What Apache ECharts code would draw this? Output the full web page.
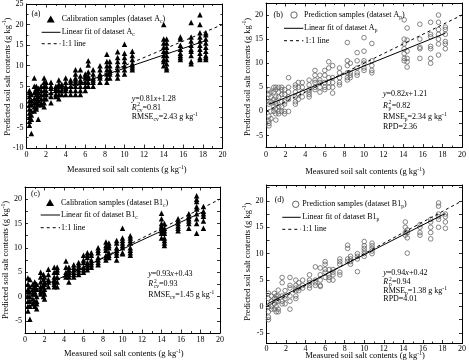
<!DOCTYPE html>
<html><head><meta charset="utf-8">
<script src="https://cdn.jsdelivr.net/npm/echarts@6/dist/echarts.min.js"></script>
<style>html,body{margin:0;padding:0;background:#fff}#c{width:469px;height:361px}</style>
</head><body><div id="c"></div>
<script>
// ---------- data ----------
const xTickLabels = [0, 2, 4, 6, 8, 10, 12, 14, 16, 18, 20];
const yTickLabelsA = [-10, -5, 0, 5, 10, 15, 20, 25];
const yTickLabels = [-5, 0, 5, 10, 15, 20];
const yTicksMinor = [-5, -2.5, 0, 2.5, 5, 7.5, 10, 12.5, 15, 17.5, 20, 22.5];

// (a) calibration samples, dataset Ac
const aX = [0.3, 0.5, 0.8, 1.0, 1.2, 1.5, 1.8, 2.0, 2.5, 3.0, 3.3, 3.6, 4.0, 4.5, 5.0, 5.5, 6.0, 6.3, 6.8, 7.5, 8.2, 8.5, 9.3, 10.0, 10.8, 14.0, 14.3, 15.7, 16.8, 17.7, 18.3];
const aY = [
  [4, 3.5, 2.5, 1.5, 0.5, -0.5, -1.5, -2.5, -3.5, -4.5],
  [3, 1.5, 0.5, -1, -2, -3, -6.5],
  [7, 5, 3.5, 2, 1, 0, -1],
  [5, 4.5, 4, 3, 2, 1, 0, -0.5],
  [4.5, 3.5, 2.5, 1.5, 0.5, -3],
  [5, 4, 3, 2, 1, 0.5],
  [7, 6, 5, 4, 3, 2, 1, 0],
  [6, 5, 4, 3, 2],
  [6, 5, 4.5, 3.5, 2.5, 1],
  [5, 4.5, 4, 3, 2.5],
  [6.5, 5.5, 5, 4, 3, 2],
  [5.5, 5, 4, 3],
  [7, 6, 5, 4.5, 4, 3],
  [6.5, 6, 5, 4, 3],
  [9, 8, 7, 6.5, 6, 5, 4, 3],
  [9, 7.5, 6.5, 6, 5, 4, 3],
  [8, 7.5, 7, 6, 5, 4],
  [11.2, 10.2, 8.5, 7.5, 7, 6, 5],
  [9, 8, 7, 6.5, 6, 5],
  [10, 9, 8, 7.5, 7, 6],
  [12.8, 11, 10, 9, 8, 7, 6],
  [11, 10, 9, 8.5, 8, 7],
  [13.4, 12, 11, 10, 9, 8, 7],
  [15.2, 13, 12, 11, 10, 9, 8],
  [13.5, 12.5, 11.5, 10.5, 10, 9.5, 9],
  [20, 16.5, 15.5, 14.5, 13.5, 12.5, 11.5, 11, 10],
  [16.5, 15.5, 14.5, 13.5, 12.5, 11.5, 10.5, 9.5, 9],
  [17, 16.5, 15, 14, 13, 12.5, 12, 11.5],
  [20.5, 17, 16, 15, 14, 13.5, 12.5, 11, 10.5],
  [22.4, 20, 18, 17, 16, 15, 14, 13, 12, 11.5],
  [18, 17.5, 16.5, 15.5, 14.5, 13.5, 12.5, 12, 11.5]
];
const aFit = [[0.3, 1.52], [18.4, 16.18]];

// (b) prediction samples, dataset Ap
const bX = [0.3, 0.5, 0.8, 1.0, 1.3, 1.6, 1.9, 2.3, 3.0, 3.3, 3.7, 4.4, 5.0, 5.5, 6.0, 6.4, 6.8, 7.5, 8.3, 8.6, 9.3, 10.0, 10.8, 14.1, 14.4, 15.7, 16.8, 17.6, 18.3];
const bY = [
  [4.5, 3.5, 2, 1.5, -1, -2, -2.5, -3],
  [4, 3, 2, 0, -1.5],
  [5, 4, 2.5, 1, 0],
  [5, 4.5, 3, 2, 1.5, 0.5, -0.5, -1.8],
  [5, 4, 3, 1, 0, -0.5],
  [5, 4.5, 3.5, 2, 1, 0],
  [4.5, 3.5, 2, 1.5, 0, -0.5],
  [7, 5, 4, 3, 2.5, 0],
  [5.5, 5, 4, 3, 2, 1.5],
  [6, 5, 3.5, 2.5],
  [6, 5, 4, 3],
  [6.5, 5.5, 4.5, 4, 3.5, 3],
  [8.5, 7.5, 6.5, 6, 5, 4.5],
  [7.5, 6.5, 6, 5, 4],
  [8.5, 7.5, 6, 5, 4.5],
  [10.3, 9, 7, 6, 5],
  [9.5, 7, 6, 5, 3.8],
  [9, 8, 7, 6, 5.5],
  [14.3, 10.5, 9.5, 8, 7, 6.5],
  [10, 8, 7.5, 7],
  [12.2, 10.5, 9, 8, 7.5],
  [15.3, 12.5, 10.5, 10, 9, 8.5],
  [14.1, 10.5, 9.5, 8.5, 8],
  [19, 15, 14, 13, 12, 11, 10.5],
  [17.3, 14.8, 12.5, 11, 10.3, 9.2],
  [18.1, 15, 13.3, 13, 11],
  [18.5, 16, 15.5, 13.5, 13, 11, 10],
  [20, 18.5, 17, 16, 15, 14, 11.7],
  [17.5, 17, 16, 14.5, 14, 13]
];
const bFit = [[0.3, 1.46], [18.3, 16.22]];

// (c) calibration samples, dataset B1c
const cX = [0.3, 0.5, 0.8, 1.0, 1.2, 1.6, 1.9, 2.0, 2.4, 3.0, 3.3, 4.2, 4.5, 5.0, 5.5, 6.0, 6.4, 6.8, 7.5, 8.3, 8.6, 9.4, 10.0, 10.8, 14.0, 14.3, 15.7, 16.8, 17.6, 18.3];
const cY = [
  [3.8, 2.5, 1.5, 1, 0, -1, -2, -3],
  [3.5, 2, 1, 0, -1, -2, -4.7],
  [2.5, 1.5, 0.5, -0.5, -1.5],
  [3, 2, 1.5, 1, 0.5, -1, -2],
  [2.5, 1.5, 0, -1, -1.5, -2.5],
  [5, 4, 3, 2, 1.5, 1, 0.5],
  [4.5, 3.5, 2.5, 2, 1, 0],
  [4, 3, 2.5, 1.5, 0.5, -0.5],
  [5.6, 4.5, 3.5, 3, 2],
  [6, 5, 4, 3.5, 3, 2.5, 2],
  [6, 5.5, 5, 4, 3, 2],
  [7.3, 6, 5, 4.5, 4],
  [6, 5.5, 5, 4.5, 4, 3],
  [6.5, 6, 5.5, 5, 4.5, 4],
  [7, 6.5, 6, 5.5, 5, 4.5],
  [8.5, 7.5, 7, 6, 5.5, 5],
  [9, 8.5, 8, 7, 6.5, 6, 5.5],
  [9, 8.5, 7.5, 7, 6.5, 6],
  [10, 9.5, 9, 8, 7.5, 7, 6.5],
  [11.2, 10.5, 10, 9.5, 8.5, 8, 7.5],
  [11, 10.5, 10, 9, 8.5, 8],
  [11.5, 11, 10, 9.5, 9, 8.5, 7.5],
  [14, 12, 11.5, 11, 10.5, 10, 9, 8.8],
  [12.5, 12, 11.5, 11, 10, 9.5, 9, 8.5],
  [17.1, 16, 15, 14.5, 14, 13.5, 13, 12],
  [15, 14, 13.5, 13, 12, 11.5, 11, 10.5],
  [16, 15.5, 15, 14.5, 14, 13.5],
  [17, 16.5, 16, 15.5, 15, 14],
  [20.7, 20, 19.5, 18.5, 18, 17, 16, 15, 13],
  [18.5, 17.5, 17, 16.5, 15.5, 14]
];
const cFit = [[0.3, 0.71], [18.3, 17.45]];

// (d) prediction samples, dataset B1p
const dX = [0.2, 0.5, 0.8, 1.0, 1.2, 1.6, 1.9, 2.4, 3.0, 3.3, 3.7, 4.4, 5.0, 5.5, 6.0, 6.4, 6.8, 7.5, 8.3, 8.6, 9.3, 10.0, 10.8, 14.2, 14.4, 15.7, 16.8, 17.6, 18.3];
const dY = [
  [2.5, 1.5, 0, -1, -2, -2.5],
  [2, 1, 0, -0.5],
  [2.5, 1.5, 0.5, -0.5],
  [2, 1.5, 1, 0, -1],
  [3.1, 2, 1, -0.5, -1],
  [5.5, 4.5, 2, 1, 0.5],
  [3, 2, 1.5, 0.5],
  [5.5, 4, 3.5, 2, 1, -0.5],
  [5, 4, 3.5, 3, 2, 1.5],
  [4.5, 3.5, 3],
  [5, 4, 3.5],
  [6, 5, 4.5, 4, 3.5],
  [7.5, 5, 4.5, 4],
  [7.3, 6, 5, 4, 3.8],
  [8.5, 8, 7, 6.5, 5.5],
  [7, 6, 5.5, 5],
  [7, 6.5, 6, 5],
  [9, 8.5, 8, 6.5, 6],
  [11.6, 11, 9, 8.5],
  [9.5, 9, 8.5, 8],
  [10, 9.5, 9, 6.6],
  [12.3, 11.5, 11, 10.5, 10, 9.5],
  [12, 11.5, 11, 10.5, 10],
  [16, 15, 14, 13.5],
  [14.5, 14, 13, 10.1],
  [15.5, 15, 14, 13.5],
  [16.5, 16, 15, 14, 12.8],
  [19.6, 19, 17.5, 17, 16.5, 15],
  [17.5, 17, 16, 14.8]
];
const dFit = [[0.1, 0.51], [18.3, 17.62]];

const oneToOne = [[0, 0], [20, 20]];

// ---------- build ----------
const FF = "'Liberation Serif', 'Times New Roman', serif";
const pts = (xs, ys) => xs.flatMap((x, i) => ys[i].map(y => [x, y]));

const grids = [
  {left: 26.5, top: 2, width: 196, height: 146},
  {left: 266, top: 3, width: 197, height: 144.5},
  {left: 25, top: 187, width: 195, height: 146},
  {left: 266.5, top: 185, width: 197, height: 158.5}
];
const yRanges = [[-10, 25], [-7.5, 22.5], [-7.5, 22.5], [-7, 23]];
const xLabelMargin = [3, 3, 3, 1.5];

const xAxes = [], yAxes = [];
grids.forEach((g, i) => {
  ['bottom', 'top'].forEach(pos => {
    xAxes.push({
      type: 'value', gridIndex: i, position: pos, min: 0, max: 20, interval: 2,
      axisLine: {show: true, onZero: false, lineStyle: {color: '#000', width: 1}},
      axisTick: {show: true, inside: true, length: 3.5, lineStyle: {color: '#000', width: 0.8}},
      minorTick: {show: true, splitNumber: 2, length: 2, lineStyle: {color: '#000', width: 0.8}},
      axisLabel: {show: pos === 'bottom', color: '#000', fontFamily: FF, fontSize: 8, margin: xLabelMargin[i],
        customValues: xTickLabels},
      splitLine: {show: false}, minorSplitLine: {show: false}
    });
  });
  ['left', 'right'].forEach(pos => {
    const [mn, mx] = yRanges[i];
    const ax = {
      type: 'value', gridIndex: i, position: pos, min: mn, max: mx,
      axisLine: {show: true, onZero: false, lineStyle: {color: '#000', width: 1}},
      axisLabel: {show: pos === 'left', color: '#000', fontFamily: FF, fontSize: 8, margin: 3},
      splitLine: {show: false}
    };
    if (i === 0) {
      ax.interval = 5;
      ax.axisTick = {show: true, inside: true, length: 3.5, lineStyle: {color: '#000', width: 0.8}};
      ax.minorTick = {show: true, splitNumber: 2, length: 2, lineStyle: {color: '#000', width: 0.8}};
      ax.axisLabel.customValues = yTickLabelsA;
    } else {
      ax.axisTick = {show: true, inside: true, length: 3, customValues: yTicksMinor, lineStyle: {color: '#000', width: 0.8}};
      ax.axisLabel.customValues = yTickLabels;
    }
    yAxes.push(ax);
  });
});

const series = [];
const sets = [
  {d: pts(aX, aY), fit: aFit, tri: true},
  {d: pts(bX, bY), fit: bFit, tri: false},
  {d: pts(cX, cY), fit: cFit, tri: true},
  {d: pts(dX, dY), fit: dFit, tri: false}
];
sets.forEach((s, i) => {
  const xi = i * 2, yi = i * 2;
  series.push({
    type: 'scatter', xAxisIndex: xi, yAxisIndex: yi, data: s.d,
    symbol: s.tri ? 'triangle' : 'circle', symbolSize: s.tri ? 5.5 : 4.6,
    itemStyle: s.tri ? {color: '#000', opacity: 1} : {color: 'rgba(255,255,255,0)', borderColor: '#666', borderWidth: 0.8, opacity: 1},
    emphasis: {disabled: true}, silent: true, z: 2
  });
  series.push({
    type: 'line', xAxisIndex: xi, yAxisIndex: yi, data: oneToOne, symbol: 'none',
    lineStyle: {color: '#000', width: 1, type: [3, 3]}, silent: true, z: 3
  });
  series.push({
    type: 'line', xAxisIndex: xi, yAxisIndex: yi, data: s.fit, symbol: 'none',
    lineStyle: {color: '#000', width: 1}, silent: true, z: 3
  });
});

// ---------- texts ----------
const RICH = {
  i: {fontStyle: 'italic', fontFamily: FF, fontSize: 8, fill: '#000'},
  sup: {fontFamily: FF, fontSize: 5.5, padding: [0, 0, 5, 0], fill: '#000'},
  sub: {fontFamily: FF, fontSize: 5.5, padding: [5, 0, 0, 0], fill: '#000'}
};
function txt(x, y, text, opt) {
  return Object.assign({
    type: 'text', x: x, y: y, silent: true, z: 100,
    style: {text: text, fill: '#000', fontFamily: FF, fontSize: 8, align: 'left', verticalAlign: 'middle', rich: RICH}
  }, opt || {});
}
function small(x, y, text) {
  return {type: 'text', x: x, y: y, silent: true, z: 100,
    style: {text: text, fill: '#000', fontFamily: FF, fontSize: 5.5, align: 'left', verticalAlign: 'middle'}};
}
function lineEl(x1, x2, y, dashed) {
  return {type: 'line', silent: true, z: 100, shape: {x1: x1, y1: y, x2: x2, y2: y},
    style: {stroke: '#000', lineWidth: 1, lineDash: dashed ? [3, 3] : null}};
}
function triEl(cx, cy) {
  return {type: 'polygon', silent: true, z: 100,
    shape: {points: [[cx, cy - 3.8], [cx - 4, cy + 3.2], [cx + 4, cy + 3.2]]}, style: {fill: '#000'}};
}
function circEl(cx, cy) {
  return {type: 'circle', silent: true, z: 100, shape: {cx: cx, cy: cy, r: 3.2},
    style: {fill: '#fff', stroke: '#555', lineWidth: 0.9}};
}
// R^2 with stacked sub/superscript
function r2(x, y, subTxt, val) {
  return [
    txt(x, y, '{i|R}'),
    small(x + 5.6, y - 3, '2'),
    small(x + 5.6, y + 2.5, subTxt),
    txt(x + 5.6 + (subTxt.length > 1 ? 5.2 : 3.2), y, '=' + val)
  ];
}
const xTitle = 'Measured soil salt contents (g kg{sup|-1})';
const yTitle = 'Predicted soil salt contents (g kg{sup|-1})';
function yT(x, y) {
  return txt(x, y, yTitle, {rotation: Math.PI / 2, style: {text: yTitle, fill: '#000', fontFamily: FF, fontSize: 8.5, align: 'center', verticalAlign: 'middle', rich: RICH}});
}
function xT(x, y) {
  return txt(x, y, xTitle, {style: {text: xTitle, fill: '#000', fontFamily: FF, fontSize: 8.5, align: 'center', verticalAlign: 'middle', rich: RICH}});
}

const graphic = [
  // (a)
  txt(31.5, 14, '(a)'),
  triEl(50.7, 19.3), txt(61.7, 19.3, 'Calibration samples (dataset A{sub|c})'),
  lineEl(41.7, 60.5, 32.3, false), txt(61.7, 32.3, 'Linear fit of dataset A{sub|c}'),
  lineEl(41.7, 60.5, 43.7, true), txt(61.7, 43.7, '1:1 line'),
  txt(131.7, 98.7, '{i|y}=0.81{i|x}+1.28'),
  ...r2(131.7, 107.8, 'cv', '0.81'),
  txt(131.7, 116.7, 'RMSE{sub|cv}=2.43 g kg{sup|-1}'),
  yT(7.3, 76.7), xT(126.7, 170),
  // (b)
  txt(273.5, 15, '(b)'),
  circEl(294, 15), txt(304, 15, 'Prediction samples (dataset A{sub|p})'),
  lineEl(284, 303.3, 28.3, false), txt(304, 28.3, 'Linear fit of dataset A{sub|p}'),
  lineEl(284, 303.3, 40.7, true), txt(305, 40.7, '1:1 line'),
  txt(383, 94.3, '{i|y}=0.82{i|x}+1.21'),
  ...r2(383, 106, 'p', '0.82'),
  txt(383, 117.3, 'RMSE{sub|p}=2.34 g kg{sup|-1}'),
  txt(383, 126.7, 'RPD=2.36'),
  yT(247.3, 77), xT(365, 171.7),
  // (c)
  txt(31, 194, '(c)'),
  triEl(50, 202.7), txt(61, 202.7, 'Calibration samples (dataset B1{sub|c})'),
  lineEl(40.7, 60, 215, false), txt(61, 215, 'Linear fit of dataset B1{sub|c}'),
  lineEl(40.7, 60, 227.7, true), txt(61, 227.7, '1:1 line'),
  txt(148.3, 274.3, '{i|y}=0.93{i|x}+0.43'),
  ...r2(148.3, 284.3, 'cv', '0.93'),
  txt(148.3, 295, 'RMSE{sub|cv}=1.45 g kg{sup|-1}'),
  yT(6, 260), xT(123.8, 354),
  // (d)
  txt(274.7, 200, '(d)'),
  circEl(295.7, 204.3), txt(302.3, 204.3, 'Prediction samples (dataset B1{sub|p})'),
  lineEl(282.3, 300.7, 217.3, false), txt(302.3, 217.3, 'Linear fit of dataset B1{sub|p}'),
  lineEl(282.3, 300.7, 229.3, true), txt(302.3, 229.3, '1:1 line'),
  txt(383.3, 273.3, '{i|y}=0.94{i|x}+0.42'),
  ...r2(383.3, 282.3, 'p', '0.94'),
  txt(383.3, 290.9, 'RMSE{sub|p}=1.38 g kg{sup|-1}'),
  txt(383.3, 299.3, 'RPD=4.01'),
  yT(247.3, 261.7), xT(365, 356)
];

const chart = echarts.init(document.getElementById('c'), null, {renderer: 'canvas'});
chart.setOption({
  animation: false,
  backgroundColor: '#fff',
  grid: grids.map(g => Object.assign({containLabel: false}, g)),
  xAxis: xAxes,
  yAxis: yAxes,
  series: series,
  graphic: graphic
});
</script>
</body></html>
